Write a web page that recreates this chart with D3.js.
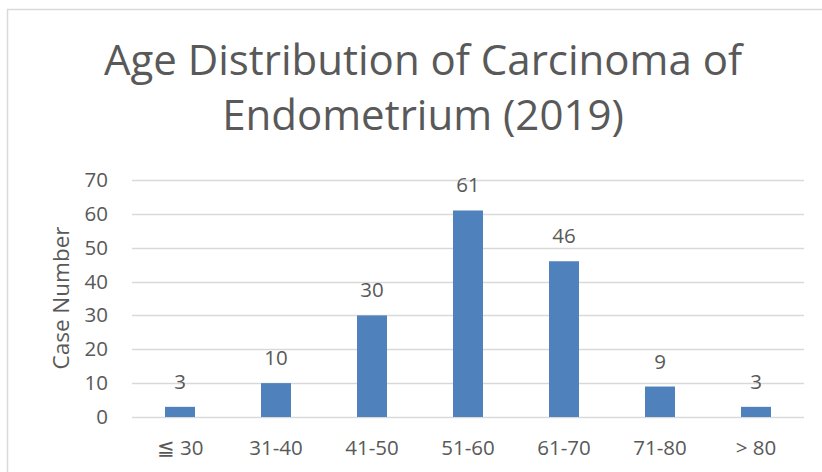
<!DOCTYPE html>
<html>
<head>
<meta charset="utf-8">
<script src="https://cdn.jsdelivr.net/npm/d3@7"></script>
<style>
  html, body { margin: 0; padding: 0; background: #fff; }
  svg { display: block; }
  text { font-family: "Open Sans", sans-serif; fill: #595959; }
</style>
</head>
<body>
<svg id="chart" width="822" height="472"></svg>
<script>
const categories = ["≦ 30", "31-40", "41-50", "51-60", "61-70", "71-80", "> 80"];
const caseNumbers = [3, 10, 30, 61, 46, 9, 3];
const yTicks = [0, 10, 20, 30, 40, 50, 60, 70];
const titleLines = ["Age Distribution of Carcinoma of", "Endometrium (2019)"];
const yTitle = "Case Number";

const svg = d3.select("#chart");
const m = { left: 132, right: 804, top: 180, bottom: 417 };

// frame
svg.append("rect")
  .attr("x", 7.5).attr("y", 9.5)
  .attr("width", 1000).attr("height", 1000)
  .attr("fill", "none").attr("stroke", "#d9d9d9").attr("stroke-width", 1.5);

const x = d3.scaleBand().domain(categories).range([m.left, m.right]).paddingInner(0.6875).paddingOuter(0.34375);
const y = d3.scaleLinear().domain([0, 70]).range([m.bottom, m.top]);

// gridlines
svg.append("g").selectAll("line").data(yTicks).join("line")
  .attr("x1", m.left).attr("x2", m.right)
  .attr("y1", d => Math.round(y(d)) + 0.5).attr("y2", d => Math.round(y(d)) + 0.5)
  .attr("stroke", "#d9d9d9").attr("stroke-width", 1.3);

const fontCss = "'Open Sans', sans-serif";

// y axis labels
const yAxis = d3.axisLeft(y).tickValues(yTicks).tickSize(0).tickPadding(0);
const gy = svg.append("g").attr("transform", `translate(108,0)`).call(yAxis);
gy.select(".domain").remove();
gy.selectAll("text").style("font-size", "20.5px").attr("fill", "#595959").style("font-family", fontCss);

// x axis labels
const xAxis = d3.axisBottom(x).tickSize(0).tickPadding(0);
const gx = svg.append("g").attr("transform", `translate(0,440)`).call(xAxis);
gx.select(".domain").remove();
gx.selectAll("text").style("font-size", "20.5px").attr("fill", "#595959").style("font-family", fontCss);

// bars
svg.append("g").selectAll("rect").data(caseNumbers).join("rect")
  .attr("x", (d, i) => x(categories[i]))
  .attr("width", x.bandwidth())
  .attr("y", d => y(d))
  .attr("height", d => y(0) - y(d))
  .attr("fill", "#4f81bd");

// value labels
svg.append("g").selectAll("text").data(caseNumbers).join("text")
  .attr("x", (d, i) => x(categories[i]) + x.bandwidth() / 2)
  .attr("y", d => y(d) - 18)
  .attr("text-anchor", "middle")
  .style("font-size", "20.5px")
  .text(d => d);

// title
svg.append("g").selectAll("text").data(titleLines).join("text")
  .attr("x", 423)
  .attr("y", (d, i) => 75 + i * 55)
  .attr("text-anchor", "middle")
  .style("font-size", "42px")
  .text(d => d);

// y title
svg.append("text")
  .attr("transform", "translate(69,298) rotate(-90)")
  .attr("text-anchor", "middle")
  .style("font-size", "22.5px")
  .text(yTitle);
</script>
</body>
</html>
